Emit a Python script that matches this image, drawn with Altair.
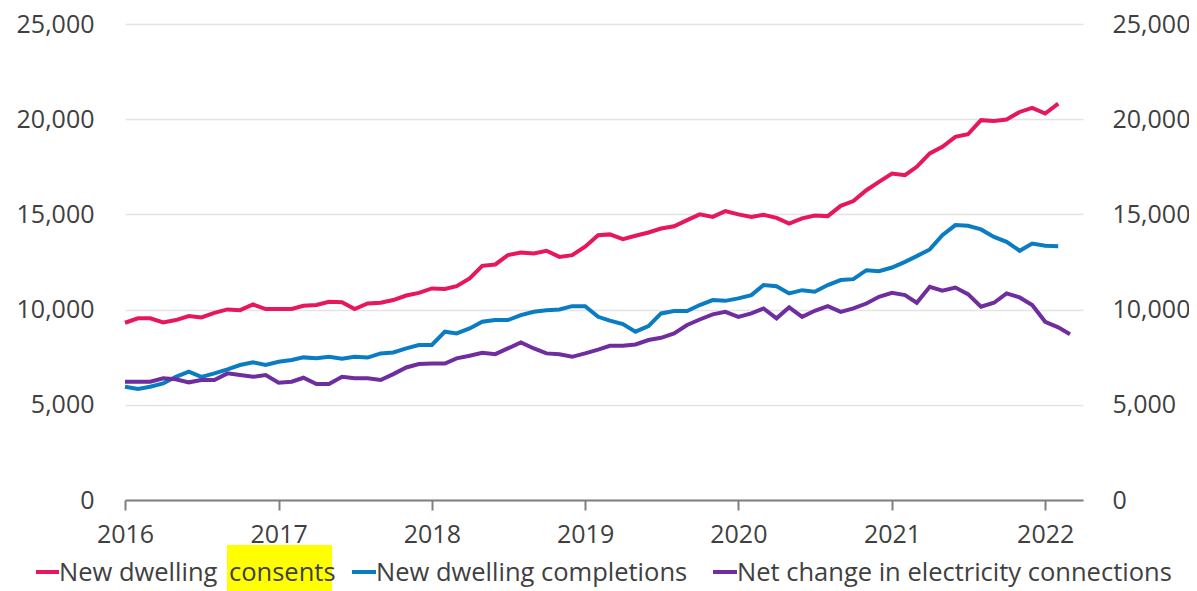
import altair as alt
import pandas as pd

# ---- data (monthly) ----
consents = [9310, 9540, 9540, 9330, 9450, 9660, 9590, 9830, 10010, 9970,
            10270, 10030, 10030, 10030, 10200, 10240, 10410, 10390, 10030, 10320,
            10360, 10500, 10740, 10880, 11110, 11080, 11230, 11640, 12300, 12370,
            12860, 13000, 12950, 13090, 12770, 12860, 13300, 13910, 13950, 13700,
            13880, 14050, 14260, 14380, 14700, 15000, 14870, 15170, 15000, 14870,
            14980, 14820, 14520, 14790, 14940, 14910, 15450, 15700, 16270, 16710,
            17150, 17060, 17500, 18200, 18550, 19070, 19210, 19950, 19910, 19980,
            20380, 20590, 20300, 20820]
completions = [5950, 5830, 5950, 6120, 6470, 6740, 6470, 6650, 6860, 7090,
               7230, 7090, 7260, 7350, 7490, 7440, 7520, 7420, 7520, 7480,
               7700, 7750, 7960, 8140, 8140, 8840, 8750, 9010, 9360, 9450,
               9450, 9710, 9890, 9970, 10010, 10180, 10180, 9620, 9420, 9240,
               8840, 9130, 9800, 9920, 9920, 10240, 10500, 10460, 10590, 10760,
               11290, 11230, 10850, 11020, 10940, 11290, 11550, 11600, 12070, 12020,
               12210, 12510, 12810, 13160, 13910, 14440, 14400, 14210, 13820, 13560,
               13090, 13470, 13350, 13330]
connections = [6210, 6210, 6210, 6390, 6340, 6180, 6300, 6300, 6650, 6560,
               6470, 6560, 6160, 6210, 6420, 6090, 6090, 6470, 6390, 6390,
               6300, 6610, 6960, 7140, 7170, 7170, 7440, 7580, 7730, 7660,
               7960, 8280, 7960, 7700, 7650, 7520, 7700, 7900, 8100, 8100,
               8170, 8400, 8520, 8750, 9190, 9480, 9750, 9880, 9620, 9800,
               10060, 9540, 10120, 9620, 9940, 10180, 9880, 10060, 10320, 10670,
               10880, 10760, 10360, 11200, 10990, 11160, 10810, 10150, 10360, 10850,
               10640, 10240, 9360, 9070, 8710]

series_names = ["New dwelling consents", "New dwelling completions",
                "Net change in electricity connections"]
colors = ["#E6175C", "#0A7CC1", "#6F2DA0"]
year_ticks = [2016, 2017, 2018, 2019, 2020, 2021, 2022]
y_ticks = [0, 5000, 10000, 15000, 20000, 25000]
start_month = "2016-01-01"

frames = []
for name, vals in zip(series_names, [consents, completions, connections]):
    dates = pd.date_range(start_month, periods=len(vals), freq="MS")
    frames.append(pd.DataFrame({"date": dates.strftime("%Y-%m-%d"), "value": vals, "series": name}))
df = pd.concat(frames, ignore_index=True)

FONT = "Open Sans"
TXT = "#404040"
AFS = 25      # axis labels
LFS = 25.5    # legend labels

x_enc = alt.X(
    "date:T",
    scale=alt.Scale(domain=[alt.DateTime(year=2016, month=1, date=1),
                            alt.DateTime(year=2022, month=4, date=1)]),
    axis=alt.Axis(values=[alt.DateTime(year=y, month=1, date=1) for y in year_ticks],
                  format="%Y", title=None, grid=False,
                  domainColor="#7F7F7F", domainWidth=2,
                  tickColor="#7F7F7F", tickWidth=2, tickSize=10,
                  labelFont=FONT, labelFontSize=AFS, labelColor=TXT,
                  labelPadding=12, labelFlush=False),
)
color_enc = alt.Color("series:N", scale=alt.Scale(domain=series_names, range=colors), legend=None)

lines_left = alt.Chart(df).mark_line(strokeWidth=4).encode(
    x=x_enc,
    y=alt.Y("value:Q", scale=alt.Scale(domain=[0, 25000]),
            axis=alt.Axis(values=y_ticks, format=",d", title=None,
                          ticks=False, domain=False, grid=True,
                          gridColor="#E3E3E3", gridWidth=1.5,
                          labelFont=FONT, labelFontSize=AFS, labelColor=TXT,
                          labelPadding=31)),
    color=color_enc,
    detail="series:N",
)

lines_right = alt.Chart(df).mark_line(strokeOpacity=0).encode(
    x=x_enc,
    y=alt.Y("value:Q", scale=alt.Scale(domain=[0, 25000]),
            axis=alt.Axis(values=y_ticks, format=",d", title=None, orient="right",
                          ticks=False, domain=False, grid=False,
                          labelFont=FONT, labelFontSize=AFS, labelColor=TXT,
                          labelPadding=29)),
    detail="series:N",
)

plot = alt.layer(lines_left, lines_right).resolve_scale(y="independent")

# ---- custom legend (with highlighted word) ----
DY = 548   # dash centre
TY = 549   # text centre
one = pd.DataFrame({"k": [1]})

edge = alt.Chart(one).mark_rule(color="#E8E8E8", strokeWidth=1.5).encode(
    x=alt.value(-123), y=alt.value(-24), y2=alt.value(567))

highlight = alt.Chart(one).mark_rect(color="#FFFF00").encode(
    x=alt.value(102), x2=alt.value(207), y=alt.value(521), y2=alt.value(567))

def dash(x1, x2, col):
    return alt.Chart(one).mark_rule(strokeWidth=4, color=col).encode(
        x=alt.value(x1), x2=alt.value(x2), y=alt.value(DY))

def label(xpos, txt):
    return alt.Chart(pd.DataFrame({"t": [txt]})).mark_text(
        align="left", baseline="middle", font=FONT, fontSize=LFS, color=TXT).encode(
        x=alt.value(xpos), y=alt.value(TY), text="t:N")

first_a, first_b = series_names[0].rsplit(" ", 1)
legend_layers = [
    edge, highlight,
    dash(-89, -66, colors[0]), label(-66, first_a), label(104, first_b),
    dash(227, 251, colors[1]), label(251, series_names[1]),
    dash(588, 612, colors[2]), label(612, series_names[2]),
]

chart = alt.layer(plot, *legend_layers).properties(
    width=958, height=476,
    autosize=alt.AutoSizeParams(type="none"),
    padding={"left": 117, "top": 16, "right": 106, "bottom": 91},
).configure_view(stroke=None)

chart.save("out.html", embed_options={"renderer": "svg", "actions": False})
